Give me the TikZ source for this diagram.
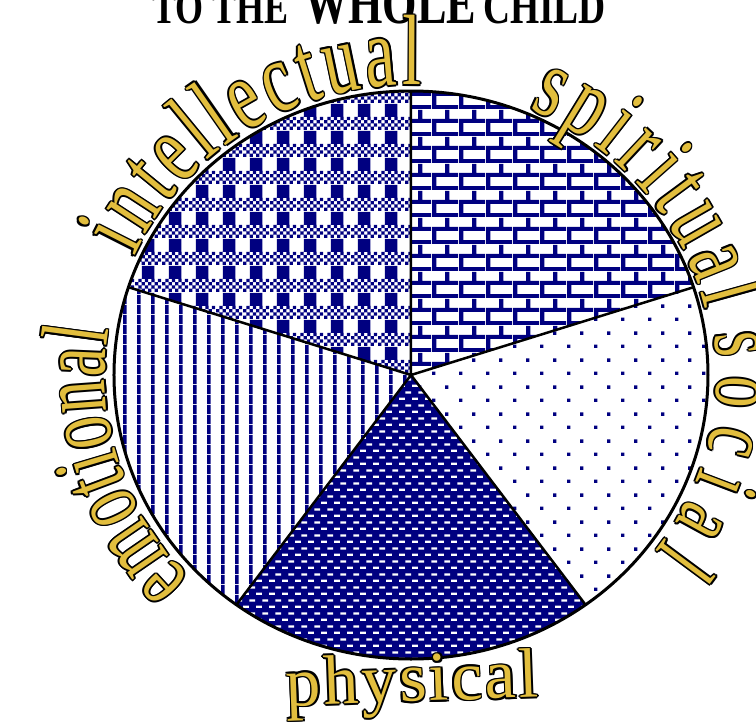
\documentclass[tikz,border=0pt]{standalone}
\usepackage{fontspec}
\usepackage{tikz}
\usetikzlibrary{patterns}
\usetikzlibrary{decorations.text}
\setmainfont{Liberation Serif}
\newfontfamily\arcfont[FakeStretch=0.68]{Liberation Serif}
\newfontfamily\plainfont{Liberation Serif}
\definecolor{navy}{RGB}{0,0,128}
\definecolor{wordgold}{RGB}{226,190,62}

% fill patterns of the five slices
\pgfdeclarepatternformonly{slicebars}{\pgfpointorigin}{\pgfqpoint{13.6pt}{10pt}}{\pgfqpoint{13.6pt}{10pt}}{%
  \pgfpathrectangle{\pgfpointorigin}{\pgfqpoint{3.8pt}{10pt}}\pgfusepath{fill}}
\pgfdeclarepatternformonly{slicebricks}{\pgfpointorigin}{\pgfqpoint{27pt}{26.6pt}}{\pgfqpoint{27pt}{26.6pt}}{%
  \pgfpathrectangle{\pgfpointorigin}{\pgfqpoint{27pt}{4pt}}
  \pgfpathrectangle{\pgfqpoint{0pt}{13.3pt}}{\pgfqpoint{27pt}{4pt}}
  \pgfpathrectangle{\pgfqpoint{0pt}{4pt}}{\pgfqpoint{4.5pt}{9.3pt}}
  \pgfpathrectangle{\pgfqpoint{13.5pt}{17.3pt}}{\pgfqpoint{4.5pt}{9.3pt}}
  \pgfusepath{fill}}
\pgfdeclarepatternformonly{slicedots}{\pgfpointorigin}{\pgfqpoint{27pt}{26.6pt}}{\pgfqpoint{27pt}{26.6pt}}{%
  \pgfpathrectangle{\pgfpointorigin}{\pgfqpoint{3.5pt}{3.5pt}}
  \pgfpathrectangle{\pgfqpoint{13.5pt}{13.3pt}}{\pgfqpoint{3.5pt}{3.5pt}}
  \pgfusepath{fill}}
\pgfdeclarepatternformonly{slicedashes}{\pgfpointorigin}{\pgfqpoint{12.8pt}{12.8pt}}{\pgfqpoint{12.8pt}{12.8pt}}{%
  \pgfpathrectangle{\pgfpointorigin}{\pgfqpoint{6pt}{2.4pt}}
  \pgfpathrectangle{\pgfqpoint{6.4pt}{6.4pt}}{\pgfqpoint{6pt}{2.4pt}}
  \pgfusepath{fill}}
\pgfdeclarepatternformonly{sliceplaid}{\pgfpointorigin}{\pgfqpoint{27pt}{27pt}}{\pgfqpoint{27pt}{27pt}}{%
  \pgfpathrectangle{\pgfqpoint{7pt}{13.5pt}}{\pgfqpoint{13pt}{13.5pt}}
  \foreach \j in {0,2} {\foreach \i in {0,2,4,6} {
    \pgfpathrectangle{\pgfpoint{\i*3.375pt}{\j*3.375pt}}{\pgfqpoint{3.375pt}{3.375pt}}}}
  \foreach \j in {1,3} {\foreach \i in {1,3,5,7} {
    \pgfpathrectangle{\pgfpoint{\i*3.375pt}{\j*3.375pt}}{\pgfqpoint{3.375pt}{3.375pt}}}}
  \pgfusepath{fill}}

% gold word with a black rim, set along a path
\newcommand\ringword[3]{%
  \foreach \ox/\oy in {1.7/0,-1.7/0,0/1.7,0/-1.7,1.2/1.2,-1.2/1.2,1.2/-1.2,-1.2/-1.2}
    \path[shift={(\ox,\oy)}, decorate, decoration={text along path,
      text={|#1\color{black}|#2}, text align=fit to path}] #3;
  \path[decorate, decoration={text along path,
    text={|#1\color{wordgold}|#2}, text align=fit to path}] #3;
}
\def\intelfont{\arcfont\fontsize{100}{100}\selectfont}
\def\spiritfont{\arcfont\fontsize{100}{100}\selectfont}
\def\socialfont{\arcfont\fontsize{92}{92}\selectfont}
\def\emofont{\arcfont\fontsize{95}{95}\selectfont}
\def\physfont{\plainfont\fontsize{70}{70}\selectfont}

\begin{document}
\begin{tikzpicture}[x=1pt, y=1pt,
  title/.style={anchor=base west, inner sep=0pt, xscale=.75}]

\useasboundingbox (-411,-349) rectangle (345,375);
\coordinate (centre) at (0,0);

% slices
\foreach \a/\bg/\pat/\pc in {90/white/sliceplaid/navy, 18/white/slicebricks/navy,
    -54/white/slicedots/navy, -126/navy/slicedashes/white, 162/white/slicebars/navy}
  \fill[\bg, postaction={pattern=\pat, pattern color=\pc}]
    (centre) -- (\a:297 and 284)
    arc[start angle=\a, delta angle=72, x radius=297, y radius=284] -- cycle;

% spokes and rim
\draw[line width=2.5pt] \foreach \a in {90,18,-54,-126,162} {(centre) -- (\a:297 and 284)};
\draw[line width=3pt] (centre) ellipse [x radius=297, y radius=284];

% title, cut at the top
\node[title, font=\plainfont\bfseries\fontsize{48}{48}\selectfont] (to) at (-259,352) {TO THE};
\node[title, font=\plainfont\bfseries\fontsize{59}{59}\selectfont] (whole) at (-107,352) {WHOLE};
\node[title, font=\plainfont\bfseries\fontsize{50}{50}\selectfont] (child) at (72,352) {CHILD};

% words round the circle
\ringword{\intelfont}{intellectual}{(156:303 and 290) arc[start angle=156, end angle=88, x radius=303, y radius=290]}
\ringword{\spiritfont}{spiritual}{(67:302 and 289) arc[start angle=67, end angle=13, x radius=302, y radius=289]}
\ringword{\socialfont}{social}{(8:306 and 293) arc[start angle=8, end angle=-37, x radius=306, y radius=293]}
\ringword{\emofont}{emotional}{(224:306 and 293) arc[start angle=224, end angle=171, x radius=306, y radius=293]}
\ringword{\physfont}{physical}{(-124,-331) -- (128,-322)}

\end{tikzpicture}
\end{document}
